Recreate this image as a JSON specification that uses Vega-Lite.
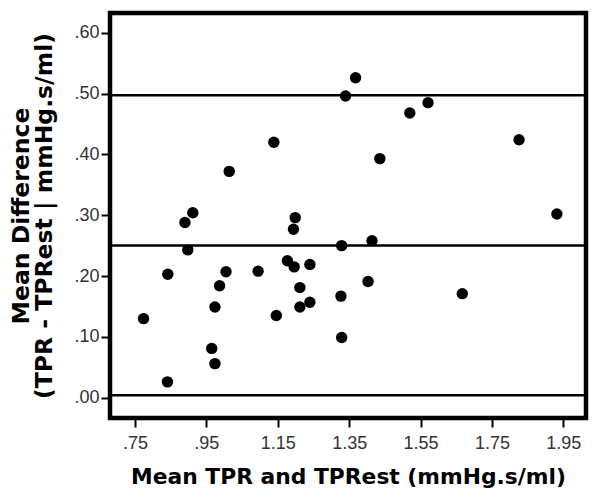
{
  "$schema": "https://vega.github.io/schema/vega-lite/v6.json",
  "width": 476,
  "height": 405,
  "autosize": "none",
  "padding": {"left": 110, "top": 13, "right": 14, "bottom": 85},
  "background": "white",
  "view": {"stroke": "black", "strokeWidth": 4.5, "fill": "white"},
  "datasets": {
    "points": [
      {"mean": 0.774, "diff": 0.130},
      {"mean": 0.841, "diff": 0.026},
      {"mean": 0.842, "diff": 0.203},
      {"mean": 0.890, "diff": 0.288},
      {"mean": 0.898, "diff": 0.243},
      {"mean": 0.912, "diff": 0.304},
      {"mean": 0.965, "diff": 0.081},
      {"mean": 0.974, "diff": 0.056},
      {"mean": 0.974, "diff": 0.149},
      {"mean": 0.987, "diff": 0.184},
      {"mean": 1.005, "diff": 0.207},
      {"mean": 1.014, "diff": 0.372},
      {"mean": 1.095, "diff": 0.208},
      {"mean": 1.139, "diff": 0.420},
      {"mean": 1.146, "diff": 0.135},
      {"mean": 1.177, "diff": 0.225},
      {"mean": 1.194, "diff": 0.277},
      {"mean": 1.196, "diff": 0.215},
      {"mean": 1.199, "diff": 0.296},
      {"mean": 1.212, "diff": 0.181},
      {"mean": 1.212, "diff": 0.149},
      {"mean": 1.240, "diff": 0.219},
      {"mean": 1.240, "diff": 0.157},
      {"mean": 1.327, "diff": 0.167},
      {"mean": 1.329, "diff": 0.099},
      {"mean": 1.329, "diff": 0.250},
      {"mean": 1.340, "diff": 0.496},
      {"mean": 1.368, "diff": 0.526},
      {"mean": 1.403, "diff": 0.191},
      {"mean": 1.414, "diff": 0.258},
      {"mean": 1.436, "diff": 0.393},
      {"mean": 1.520, "diff": 0.468},
      {"mean": 1.571, "diff": 0.485},
      {"mean": 1.667, "diff": 0.171},
      {"mean": 1.826, "diff": 0.424},
      {"mean": 1.932, "diff": 0.302}
    ],
    "lines": [
      {"level": 0.497},
      {"level": 0.250},
      {"level": 0.004}
    ]
  },
  "layer": [
    {
      "data": {"name": "lines"},
      "mark": {"type": "rule", "color": "black", "strokeWidth": 2.5},
      "encoding": {
        "y": {"field": "level", "type": "quantitative", "scale": {"domain": [-0.0334, 0.6324], "nice": false, "zero": false}}
      }
    },
    {
      "data": {"name": "points"},
      "mark": {"type": "point", "shape": "circle", "filled": true, "color": "black", "opacity": 1, "size": 130},
      "encoding": {
        "x": {
          "field": "mean",
          "type": "quantitative",
          "scale": {"domain": [0.680, 2.0136], "nice": false, "zero": false},
          "axis": {
            "values": [0.75, 0.95, 1.15, 1.35, 1.55, 1.75, 1.95],
            "labelExpr": "datum.value < 1 ? slice(format(datum.value, '.2f'), 1) : format(datum.value, '.2f')",
            "grid": false,
            "domain": false,
            "labelFont": "Liberation Sans",
            "labelFontSize": 18,
            "labelColor": "#333",
            "labelPadding": 7,
            "tickColor": "black",
            "tickWidth": 2,
            "tickSize": 9,
            "title": "Mean TPR and TPRest (mmHg.s/ml)",
            "titleFont": "DejaVu Sans",
            "titleFontWeight": "bold",
            "titleFontSize": 21.8,
            "titleColor": "black",
            "titlePadding": 14
          }
        },
        "y": {
          "field": "diff",
          "type": "quantitative",
          "scale": {"domain": [-0.0334, 0.6324], "nice": false, "zero": false},
          "axis": {
            "values": [0, 0.1, 0.2, 0.3, 0.4, 0.5, 0.6],
            "labelExpr": "slice(format(datum.value, '.2f'), 1)",
            "grid": false,
            "domain": false,
            "labelFont": "Liberation Sans",
            "labelFontSize": 18,
            "labelColor": "#333",
            "labelPadding": 2,
            "tickColor": "black",
            "tickWidth": 2,
            "tickSize": 9,
            "title": ["Mean Difference", "(TPR - TPRest | mmHg.s/ml)"],
            "titleFont": "DejaVu Sans",
            "titleFontWeight": "bold",
            "titleFontSize": 23.5,
            "titleColor": "black",
            "titlePadding": 17,
            "titleLineHeight": 23
          }
        }
      }
    }
  ]
}
